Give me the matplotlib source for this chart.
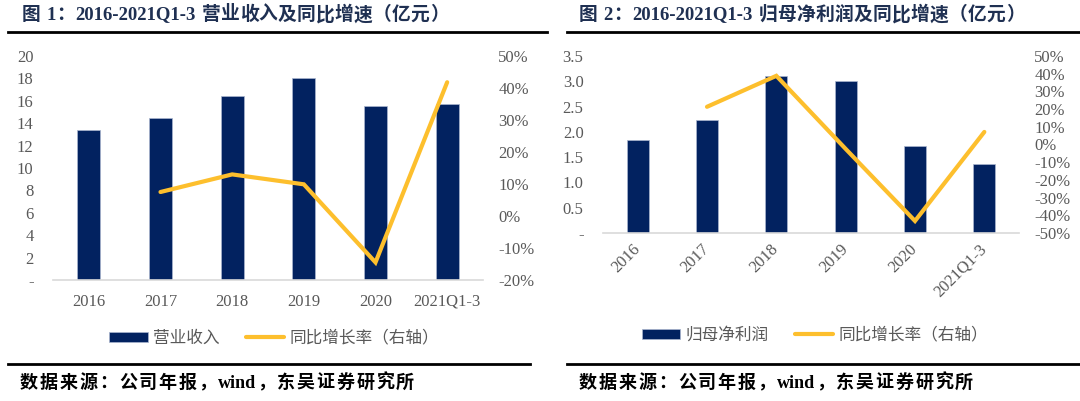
import numpy as np
import matplotlib
matplotlib.use('Agg')
import matplotlib.pyplot as plt
from matplotlib.lines import Line2D
from matplotlib.ticker import FuncFormatter, MultipleLocator

plt.rcParams['font.family'] = ['Liberation Serif', 'Noto Sans CJK SC']
plt.rcParams['axes.unicode_minus'] = False

# data
years = ['2016', '2017', '2018', '2019', '2020', '2021Q1-3']
revenue = [13.4, 14.5, 16.4, 18.05, 15.5, 15.7]          # 亿元
revenue_yoy = [np.nan, 7.5, 13.0, 9.9, -14.5, 41.8]       # %
profit = [1.84, 2.24, 3.10, 3.01, 1.73, 1.37]             # 亿元
profit_yoy = [np.nan, 21.3, 38.8, -2.5, -43.2, 7.1]       # %

titles = ['图 1：2016-2021Q1-3 营业收入及同比增速（亿元）',
          '图 2：2016-2021Q1-3 归母净利润及同比增速（亿元）']
bar_labels = ['营业收入', '归母净利润']
line_label = '同比增长率（右轴）'
source = '数据来源：公司年报，wind，东吴证券研究所'

BAR = '#022260'
LINE = '#FDBF2D'
GRAY = '#595959'
CJK = ['Noto Sans CJK SC']

W, H = 1080, 401
fig = plt.figure(figsize=(W / 100, H / 100), dpi=100)
renderer = fig.canvas.get_renderer()


def box(x0, y0, x1, y1):
    return [x0 / W, 1 - y1 / H, (x1 - x0) / W, (y1 - y0) / H]


def is_cjk(ch):
    return ord(ch) >= 0x2E80


def spaced_text(x_px, y_px, s, cjk_adv, **kw):
    """Write s with a fixed advance for CJK chars (the PDF source has letter spacing)."""
    x = x_px
    runs, cur = [], ''
    for ch in s:
        if is_cjk(ch):
            if cur:
                runs.append(cur)
                cur = ''
            runs.append(ch)
        else:
            cur += ch
    if cur:
        runs.append(cur)
    for run in runs:
        if len(run) == 1 and is_cjk(run):
            fig.text(x / W, 1 - y_px / H, run, ha='left', va='center', **kw)
            x += cjk_adv
        else:
            lead = len(run) - len(run.lstrip(' '))
            trail = len(run) - len(run.rstrip(' '))
            body = run.strip(' ')
            x += lead * 5
            if body:
                t = fig.text(x / W, 1 - y_px / H, body, ha='left', va='center', **kw)
                x += t.get_window_extent(renderer).width + 1
            x += trail * 5


def draw(ax, values, yoy, ylim, ystep, fmt, y2lim, label, rotate, legend_xy):
    x = np.arange(len(years))
    ax.bar(x, values, width=0.32, color=BAR, edgecolor='#aab6cf', linewidth=0.5,
           label=label, zorder=2)
    ax.set_xlim(-0.5, len(years) - 0.5)
    ax.set_ylim(*ylim)
    ax.yaxis.set_major_locator(MultipleLocator(ystep))
    ax.yaxis.set_major_formatter(FuncFormatter(lambda v, p: '-' if abs(v) < 1e-9 else fmt.format(v)))
    for s in ['top', 'right', 'left']:
        ax.spines[s].set_visible(False)
    ax.spines['bottom'].set_color('#d9d9d9')
    ax.spines['bottom'].set_linewidth(1.2)
    ax.set_xticks(x)
    if rotate:
        ax.set_xticklabels(years, rotation=45, ha='right', va='center',
                           rotation_mode='anchor')
    else:
        ax.set_xticklabels(years)
    ax.tick_params(axis='x', pad=10)
    ax.tick_params(axis='both', length=0, labelsize=12, labelcolor=GRAY)
    ax.tick_params(axis='y', pad=14)

    ax2 = ax.twinx()
    ax2.plot(x, yoy, color=LINE, linewidth=3, solid_capstyle='round',
             solid_joinstyle='miter', label=line_label, zorder=3)
    ax2.set_ylim(*y2lim)
    ax2.yaxis.set_major_locator(MultipleLocator(10))
    ax2.yaxis.set_major_formatter(FuncFormatter(lambda v, p: f'{v:.0f}%'))
    for s in ['top', 'right', 'left', 'bottom']:
        ax2.spines[s].set_visible(False)
    ax2.tick_params(axis='y', length=0, labelsize=12, labelcolor=GRAY, pad=11)

    h1, l1 = ax.get_legend_handles_labels()
    h2, l2 = ax2.get_legend_handles_labels()
    fig.legend(h1 + h2, l1 + l2, loc='center', bbox_to_anchor=legend_xy,
               ncol=2, frameon=False, prop={'family': CJK, 'size': 12},
               labelcolor=GRAY, handlelength=2.3, handleheight=0.55,
               handletextpad=0.3, columnspacing=1.6)


ax_l = fig.add_axes(box(53, 56, 483, 280))
draw(ax_l, revenue, revenue_yoy, (0, 20), 2, '{:.0f}', (-20, 50),
     bar_labels[0], False, (274 / W, 1 - 338 / H))

ax_r = fig.add_axes(box(603, 56, 1019, 233))
draw(ax_r, profit, profit_yoy, (0, 3.5), 0.5, '{:.1f}', (-50, 50),
     bar_labels[1], True, (815 / W, 1 - 335 / H))

# titles, rules and source notes
for tx, t in zip([22, 579], titles):
    spaced_text(tx, 15, t, 19.0, fontsize=13.5, fontweight='bold', color='#1f3052')

for x0, x1 in [(8, 547), (567, 1080)]:
    fig.add_artist(Line2D([x0 / W, x1 / W], [1 - 32 / H] * 2, color='black',
                          linewidth=2, transform=fig.transFigure))
for x0, x1 in [(8, 530), (567, 1080)]:
    fig.add_artist(Line2D([x0 / W, x1 / W], [1 - 364 / H] * 2, color='black',
                          linewidth=2, transform=fig.transFigure))

for tx in [20, 579]:
    spaced_text(tx, 383, source, 19.8, fontsize=13, fontweight='bold', color='black')

fig.savefig('out.png', dpi=100)
